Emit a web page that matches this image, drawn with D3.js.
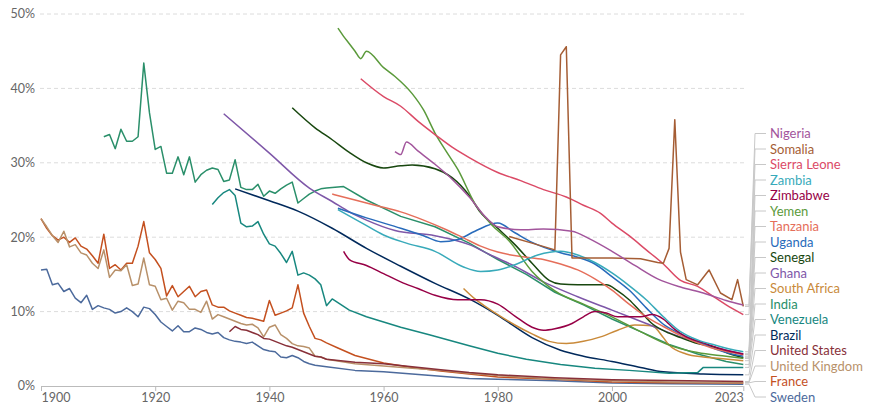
<!DOCTYPE html>
<html><head><meta charset="utf-8">
<script src="https://cdn.jsdelivr.net/npm/d3@7"></script>
<style>html,body{margin:0;padding:0;background:#fff;}svg{display:block;font-family:Lato,"Open Sans",sans-serif;}</style>
</head><body><svg id="chart" width="875" height="404"></svg>
<script>
// ---- data (under-five mortality, % of children dying before age 5) ----
const countries = ["Nigeria","Somalia","Sierra Leone","Zambia","Zimbabwe","Yemen","Tanzania","Uganda","Senegal","Ghana","South Africa","India","Venezuela","Brazil","United States","United Kingdom","France","Sweden"];
const colors = ["#a2559c","#a55d34","#db4a66","#38aaba","#970046","#5b9a3b","#e56e5a","#286bbb","#18470f","#7e57a8","#c98a3a","#2a8f6a","#17877f","#00295b","#883039","#b8916a","#c4501f","#4c6a9c"];
const yTicks = [0,10,20,30,40,50];
const xTicks = [1900,1920,1940,1960,1980,2000,2023];

const sweden = [[1900,15.6],[1901,15.7],[1902,13.6],[1903,13.8],[1904,12.7],[1905,13.1],[1906,11.8],[1907,11.2],[1908,12.2],[1909,10.3],[1910,10.8],[1911,10.5],[1912,10.3],[1913,9.8],[1914,10.0],[1915,10.5],[1916,10.0],[1917,9.3],[1918,10.6],[1919,10.4],[1920,9.6],[1921,8.6],[1922,8.0],[1923,7.4],[1924,8.1],[1925,7.3],[1926,7.3],[1927,7.8],[1928,7.6],[1929,7.2],[1930,7.0],[1931,7.2],[1932,6.5],[1933,6.2],[1934,6.0],[1935,5.9],[1936,5.7],[1937,5.9],[1938,5.4],[1939,4.9],[1940,4.7],[1941,4.6],[1942,3.9],[1943,3.8],[1944,4.1],[1945,3.8],[1946,3.3],[1947,3.0],[1948,2.8],[1949,2.7],[1950,2.6],[1955,2.1],[1960,1.9],[1965,1.6],[1970,1.3],[1975,1.0],[1980,0.9],[1990,0.7],[2000,0.4],[2010,0.3],[2023,0.25]];
const france = [[1900,22.5],[1901,21.2],[1902,20.2],[1903,19.6],[1904,20.0],[1905,19.3],[1906,19.9],[1907,18.8],[1908,18.4],[1909,17.5],[1910,16.5],[1911,20.4],[1912,15.8],[1913,16.3],[1914,15.6],[1915,16.5],[1916,16.5],[1917,18.8],[1918,22.1],[1919,17.9],[1920,17.0],[1921,15.8],[1922,12.1],[1923,13.5],[1924,12.0],[1925,12.7],[1926,13.4],[1927,12.0],[1928,12.7],[1929,12.9],[1930,10.9],[1931,10.6],[1932,10.6],[1933,10.1],[1934,9.8],[1935,9.5],[1936,9.2],[1937,9.1],[1938,8.9],[1939,8.7],[1940,11.5],[1941,9.5],[1942,9.8],[1943,10.1],[1944,10.5],[1945,13.6],[1946,9.8],[1947,8.0],[1948,6.4],[1949,6.2],[1950,5.8],[1952,5.1],[1955,4.1],[1960,3.1],[1965,2.5],[1970,2.0],[1975,1.6],[1980,1.2],[1990,0.9],[2000,0.55],[2010,0.45],[2023,0.42]];
const unitedKingdom = [[1900,22.5],[1901,21.4],[1902,20.2],[1903,19.3],[1904,20.8],[1905,18.7],[1906,19.0],[1907,17.9],[1908,17.6],[1909,16.5],[1910,15.8],[1911,18.3],[1912,14.6],[1913,15.6],[1914,15.5],[1915,16.3],[1916,13.5],[1917,13.7],[1918,17.2],[1919,13.6],[1920,13.4],[1921,11.6],[1922,11.8],[1923,10.2],[1924,11.4],[1925,11.2],[1926,10.3],[1927,10.3],[1928,9.9],[1929,11.4],[1930,9.0],[1931,9.6],[1932,9.3],[1933,9.0],[1934,8.7],[1935,8.4],[1936,8.2],[1937,8.3],[1938,7.8],[1939,6.6],[1940,7.9],[1941,8.2],[1942,6.9],[1943,6.4],[1944,5.7],[1945,5.4],[1946,5.3],[1947,5.1],[1948,4.0],[1949,3.9],[1950,3.6],[1955,3.0],[1960,2.7],[1965,2.4],[1970,2.1],[1975,1.7],[1980,1.4],[1990,0.95],[2000,0.7],[2010,0.55],[2023,0.45]];
const unitedStates = [[1933,7.3],[1934,8.0],[1935,7.6],[1936,7.5],[1937,7.2],[1938,6.9],[1939,6.4],[1940,6.3],[1941,6.0],[1942,5.7],[1943,5.4],[1944,5.2],[1945,4.9],[1946,4.6],[1947,4.3],[1948,4.0],[1949,3.9],[1950,3.6],[1955,3.2],[1960,3.0],[1965,2.6],[1970,2.2],[1975,1.8],[1980,1.5],[1990,1.1],[2000,0.85],[2010,0.75],[2023,0.6]];
const india = [[1911,33.5],[1912,33.8],[1913,31.9],[1914,34.5],[1915,32.9],[1916,32.9],[1917,33.5],[1918,43.4],[1919,36.7],[1920,31.8],[1921,32.2],[1922,28.6],[1923,28.6],[1924,30.8],[1925,28.4],[1926,30.8],[1927,27.4],[1928,28.4],[1929,29.0],[1930,29.3],[1931,29.1],[1932,27.5],[1933,27.7],[1934,30.4],[1935,26.7],[1936,26.4],[1937,26.4],[1938,27.1],[1939,25.5],[1940,26.2],[1941,25.9],[1942,26.5],[1943,27.0],[1944,27.4],[1945,24.6],[1946,25.2],[1947,25.8],[1948,26.2],[1949,26.5],[1950,26.6],[1953,26.8],[1957,25.0],[1963,22.8],[1969,21.4],[1975,19.2],[1980,17.0],[1985,15.0],[1990,12.6],[1995,10.9],[2000,9.0],[2005,7.3],[2010,5.6],[2015,4.3],[2020,3.3],[2023,2.9]];
const venezuela = [[1930,24.4],[1931,25.3],[1932,26.0],[1933,26.4],[1934,25.6],[1935,21.9],[1936,21.4],[1937,21.5],[1938,22.1],[1939,20.4],[1940,19.1],[1941,18.8],[1942,17.8],[1943,16.6],[1944,18.1],[1945,14.9],[1946,15.2],[1947,14.9],[1948,14.4],[1949,13.6],[1950,10.8],[1951,11.7],[1952,11.2],[1953,10.7],[1954,10.2],[1957,9.3],[1963,7.9],[1968,6.9],[1975,5.4],[1980,4.4],[1985,3.6],[1991,2.9],[1997,2.4],[2003,2.1],[2010,1.7],[2015,1.8],[2016,2.5],[2023,2.5]];
const brazil = [[1934,26.5],[1940,24.9],[1945,23.5],[1951,21.2],[1957,18.5],[1963,16.1],[1969,13.8],[1975,11.7],[1980,9.5],[1986,6.5],[1991,4.8],[1995,4.0],[2000,3.3],[2005,2.5],[2009,1.9],[2016,1.6],[2023,1.5]];
const ghana = [[1932,36.6],[1940,31.3],[1947,26.6],[1951,24.8],[1954,23.4],[1957,22.3],[1962,20.9],[1969,20.2],[1975,19.0],[1979,17.5],[1983,16.1],[1988,14.0],[1994,12.0],[2000,10.2],[2006,8.4],[2012,6.6],[2018,5.2],[2023,4.3]];
const nigeria = [[1962,31.5],[1963,31.1],[1964,32.8],[1966,31.6],[1969,29.8],[1972,27.8],[1975,25.4],[1978,22.6],[1980,21.4],[1984,21.0],[1988,21.1],[1993,20.8],[1996,19.8],[2000,18.1],[2004,16.2],[2008,14.4],[2012,13.3],[2016,12.5],[2020,11.5],[2023,10.9]];
const sierraLeone = [[1956,41.3],[1960,38.9],[1963,37.6],[1966,35.6],[1969,33.8],[1972,32.1],[1975,30.7],[1980,28.7],[1984,27.6],[1988,26.4],[1992,25.4],[1995,24.3],[1998,23.2],[2000,21.9],[2003,20.2],[2006,18.3],[2009,16.4],[2012,14.2],[2015,13.4],[2018,11.9],[2020,10.9],[2023,9.6]];
const yemen = [[1952,48.1],[1953,47.0],[1954,46.0],[1955,45.0],[1956,44.0],[1957,45.0],[1960,42.8],[1962,41.6],[1965,39.3],[1967,37.1],[1969,34.0],[1971,31.5],[1973,29.1],[1976,24.5],[1979,21.6],[1982,19.5],[1986,15.4],[1990,12.8],[1995,11.0],[2000,9.3],[2005,7.3],[2010,5.5],[2015,4.5],[2020,4.0],[2023,3.7]];
const senegal = [[1944,37.4],[1948,34.7],[1951,33.1],[1954,31.4],[1957,30.0],[1960,29.3],[1963,29.6],[1965,29.7],[1969,29.2],[1972,28.0],[1975,25.6],[1977,23.3],[1980,21.2],[1983,19.0],[1986,16.5],[1989,14.2],[1991,13.7],[1994,13.6],[1999,13.6],[2001,12.8],[2003,11.6],[2005,10.0],[2007,8.4],[2010,7.1],[2012,6.5],[2015,5.7],[2018,5.2],[2020,4.5],[2023,3.8]];
const zambia = [[1952,23.7],[1956,22.0],[1960,20.3],[1964,19.2],[1969,18.1],[1974,16.0],[1977,15.4],[1980,15.6],[1983,16.3],[1987,17.6],[1991,18.1],[1994,17.6],[1997,16.6],[2000,15.2],[2003,13.5],[2006,11.6],[2009,9.3],[2012,7.3],[2015,6.2],[2018,5.5],[2021,4.9],[2023,4.6]];
const uganda = [[1952,23.9],[1957,22.6],[1963,21.2],[1967,20.2],[1970,19.4],[1973,19.7],[1976,20.8],[1980,21.9],[1983,20.6],[1986,19.3],[1991,17.9],[1994,17.3],[1997,16.4],[2000,14.7],[2003,12.9],[2006,10.5],[2009,8.3],[2012,7.0],[2015,6.0],[2018,5.0],[2021,4.3],[2023,4.0]];
const tanzania = [[1951,25.8],[1955,25.0],[1959,24.2],[1963,23.4],[1967,22.3],[1971,21.0],[1974,19.9],[1977,18.8],[1980,18.0],[1984,17.4],[1988,17.0],[1991,16.4],[1994,15.6],[1997,14.4],[2000,12.9],[2003,11.0],[2006,9.3],[2009,8.0],[2012,6.8],[2015,5.8],[2018,5.0],[2021,4.5],[2023,4.2]];
const zimbabwe = [[1953,18.1],[1954,17.0],[1957,16.2],[1960,15.1],[1963,14.0],[1966,13.1],[1969,12.2],[1973,11.6],[1977,11.6],[1980,11.0],[1983,9.4],[1986,7.9],[1988,7.5],[1990,7.7],[1993,8.4],[1995,9.3],[1997,10.0],[1999,9.8],[2001,9.3],[2005,9.3],[2007,9.6],[2009,9.0],[2011,7.6],[2013,6.6],[2016,5.8],[2019,5.0],[2023,4.3]];
const southAfrica = [[1974,13.1],[1976,11.7],[1978,10.6],[1980,9.6],[1983,8.2],[1986,7.0],[1989,6.0],[1992,5.7],[1995,6.0],[1998,6.6],[2001,7.5],[2004,8.2],[2007,8.1],[2009,6.5],[2010,5.5],[2013,4.3],[2016,3.9],[2019,3.7],[2023,3.4]];
const somalia = [[1982,20.1],[1986,19.2],[1990,18.3],[1991,44.5],[1992,45.6],[1993,17.2],[2000,17.2],[2005,17.1],[2008,16.6],[2009,16.5],[2010,18.5],[2011,35.8],[2012,18.0],[2013,14.3],[2015,13.6],[2017,15.6],[2019,12.5],[2021,11.6],[2022,14.3],[2023,10.7]];

const seriesData = [nigeria,somalia,sierraLeone,zambia,zimbabwe,yemen,tanzania,uganda,senegal,ghana,southAfrica,india,venezuela,brazil,unitedStates,unitedKingdom,france,sweden];
// series recorded year by year are drawn as straight segments; sparse ones smoothed
const yearlySeries = ["Somalia","India","Venezuela","United States","United Kingdom","France","Sweden"];

// ---- drawing ----
const svg = d3.select("#chart");
const x = d3.scaleLinear().domain([1900,2023]).range([41,743.3]);
const y = d3.scaleLinear().domain([0,50]).range([386,14]);

// gridlines
svg.append("g").selectAll("line").data(yTicks.filter(d=>d>0)).join("line")
  .attr("x1",40).attr("x2",745).attr("y1",d=>y(d)).attr("y2",d=>y(d))
  .attr("stroke","#dcdcdc").attr("stroke-dasharray","4,3").attr("stroke-width",1);

// y labels
svg.append("g").selectAll("text").data(yTicks).join("text")
  .attr("x",35).attr("y",d=>y(d)).attr("dy","0.35em").attr("text-anchor","end")
  .attr("font-size",12.5).attr("fill","#666").text(d=>d+"%");

// x axis
const xAxis = d3.axisBottom(x).tickValues(xTicks).tickFormat(d3.format("d")).tickSize(5).tickPadding(2);
const gx = svg.append("g").attr("transform","translate(0,386)").call(xAxis);
gx.select(".domain").attr("stroke","#bbb").attr("d","M41,0.5H743.3");
gx.selectAll(".tick line").attr("stroke","#bbb");
gx.selectAll(".tick text").attr("font-size",12.5).attr("fill","#666").attr("font-family","Lato,sans-serif")
  .attr("text-anchor",(d,i)=> i===0 ? "start" : (i===xTicks.length-1 ? "end" : "middle"));

// lines
const lineSmooth = d3.line().x(d=>x(d[0])).y(d=>y(d[1])).curve(d3.curveMonotoneX);
const lineStraight = d3.line().x(d=>x(d[0])).y(d=>y(d[1])).curve(d3.curveLinear);
const order = d3.range(countries.length).reverse();
svg.append("g").selectAll("path").data(order).join("path")
  .attr("d",i=>(yearlySeries.includes(countries[i]) ? lineStraight : lineSmooth)(seriesData[i]))
  .attr("fill","none")
  .attr("stroke",i=>colors[i]).attr("stroke-width",1.5).attr("stroke-linejoin","round");

// legend
const labelY = i => 397 - (countries.length-1-i)*15.5;
const lg = svg.append("g");
lg.selectAll("path").data(d3.range(countries.length)).join("path")
  .attr("d",i=>{const s=seriesData[i]; const ey=y(s[s.length-1][1]); const ly=labelY(i);
     return `M745,${ey}L749,${ey}L755,${ly}L766,${ly}`;})
  .attr("fill","none").attr("stroke","#c8c8c8").attr("stroke-width",1);
lg.selectAll("text").data(d3.range(countries.length)).join("text")
  .attr("x",770).attr("y",i=>labelY(i)).attr("dy","0.35em")
  .attr("font-size",13).attr("fill",i=>colors[i]).text(i=>countries[i]);
</script></body></html>
